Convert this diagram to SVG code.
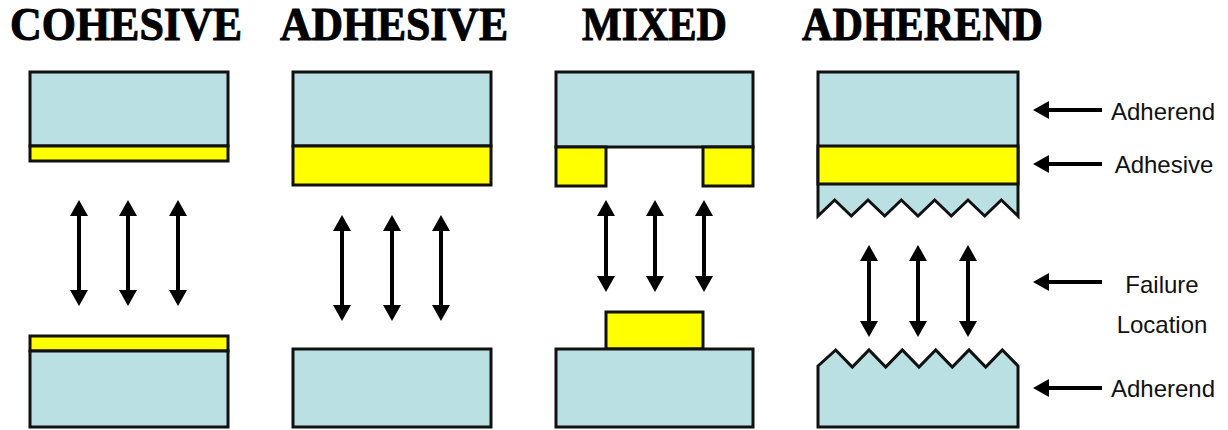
<svg xmlns="http://www.w3.org/2000/svg" width="1228" height="430" viewBox="0 0 1228 430">
  <style>
    .adherend { fill: #bae0e3; stroke: #111; stroke-width: 3; stroke-linejoin: miter; }
    .adhesive { fill: #ffff00; stroke: #111; stroke-width: 3; }
    .title { font-family: "Liberation Serif", "Times New Roman", serif; font-weight: bold; font-size: 46px; fill: #000; stroke: #000; stroke-width: 1; }
    .label { font-family: "Liberation Sans", Arial, sans-serif; font-size: 24px; fill: #111; text-anchor: middle; }
    .pull { stroke: #000; stroke-width: 4; marker-start: url(#head); marker-end: url(#head); }
    .pointer { stroke: #000; stroke-width: 4; marker-end: url(#head); }
  </style>
  <defs>
    <marker id="head" markerUnits="userSpaceOnUse" viewBox="0 -10 18 20" refX="0" refY="0" markerWidth="18" markerHeight="20" orient="auto-start-reverse">
      <path d="M0,-9 L16,0 L0,9 Z" fill="#000"/>
    </marker>
  </defs>
  <rect width="1228" height="430" fill="#fff"/>

  <!-- Titles -->
  <g id="titles">
    <text class="title" x="10" y="40" textLength="232" lengthAdjust="spacingAndGlyphs">COHESIVE</text>
    <text class="title" x="280" y="40" textLength="228" lengthAdjust="spacingAndGlyphs">ADHESIVE</text>
    <text class="title" x="582" y="40" textLength="145" lengthAdjust="spacingAndGlyphs">MIXED</text>
    <text class="title" x="802" y="40" textLength="241" lengthAdjust="spacingAndGlyphs">ADHEREND</text>
  </g>

  <!-- Cohesive failure: adhesive split on both halves -->
  <g id="cohesive">
    <g id="cohesive-top">
      <rect class="adherend" x="30" y="72" width="198" height="74"/>
      <rect class="adhesive" x="30" y="146" width="198" height="15"/>
    </g>
    <g id="cohesive-bottom">
      <rect class="adhesive" x="30" y="336" width="198" height="15"/>
      <rect class="adherend" x="30" y="351" width="198" height="76"/>
    </g>
  </g>

  <!-- Adhesive failure: adhesive stays on one side -->
  <g id="adhesive">
    <g id="adhesive-top">
      <rect class="adherend" x="293" y="72" width="198" height="74"/>
      <rect class="adhesive" x="293" y="146" width="198" height="39"/>
    </g>
    <g id="adhesive-bottom">
      <rect class="adherend" x="293" y="349" width="198" height="78"/>
    </g>
  </g>

  <!-- Mixed failure -->
  <g id="mixed">
    <g id="mixed-top">
      <rect class="adherend" x="556" y="72" width="197" height="75"/>
      <rect class="adhesive" x="556" y="147" width="50" height="39"/>
      <rect class="adhesive" x="703" y="147" width="50" height="39"/>
    </g>
    <g id="mixed-bottom">
      <rect class="adhesive" x="606" y="312" width="97" height="37"/>
      <rect class="adherend" x="556" y="349" width="197" height="78"/>
    </g>
  </g>

  <!-- Adherend failure: substrate fractures -->
  <g id="adherend">
    <g id="adherend-top">
      <path class="adherend" d="M818,72 H1018 V216 L1001.3,200 L984.7,216 L968,200 L951.3,216 L934.7,200 L918,216 L901.3,200 L884.7,216 L868,200 L851.3,216 L834.7,200 L818,216 Z"/>
      <rect class="adhesive" x="818" y="146" width="200" height="38"/>
    </g>
    <g id="adherend-bottom">
      <path class="adherend" d="M818,366 L835.7,350 L852.3,367 L869,350 L885.7,367 L902.3,350 L919,367 L935.7,350 L952.3,367 L969,350 L985.7,367 L1002.3,350 L1018,366 V427 H818 Z"/>
    </g>
  </g>

  <!-- Side labels -->
  <g id="labels">
    <text class="label" x="1163" y="120">Adherend</text>
    <text class="label" x="1164" y="173">Adhesive</text>
    <text class="label" x="1162" y="293">Failure</text>
    <text class="label" x="1162" y="333">Location</text>
    <text class="label" x="1163" y="397">Adherend</text>
  </g>

  <!-- Connectors: separation arrows and label pointers -->
  <g id="connectors">
    <line class="pull" x1="79" y1="216" x2="79" y2="290"/>
    <line class="pull" x1="128" y1="216" x2="128" y2="290"/>
    <line class="pull" x1="178" y1="216" x2="178" y2="290"/>

    <line class="pull" x1="342" y1="231" x2="342" y2="305"/>
    <line class="pull" x1="392" y1="231" x2="392" y2="305"/>
    <line class="pull" x1="441" y1="231" x2="441" y2="305"/>

    <line class="pull" x1="606" y1="216" x2="606" y2="276"/>
    <line class="pull" x1="655" y1="216" x2="655" y2="276"/>
    <line class="pull" x1="704" y1="216" x2="704" y2="276"/>

    <line class="pull" x1="869" y1="261" x2="869" y2="321"/>
    <line class="pull" x1="918" y1="261" x2="918" y2="321"/>
    <line class="pull" x1="968" y1="261" x2="968" y2="321"/>

    <line class="pointer" x1="1102" y1="110" x2="1049" y2="110"/>
    <line class="pointer" x1="1102" y1="164" x2="1049" y2="164"/>
    <line class="pointer" x1="1102" y1="282" x2="1049" y2="282"/>
    <line class="pointer" x1="1102" y1="388" x2="1049" y2="388"/>
  </g>
</svg>
